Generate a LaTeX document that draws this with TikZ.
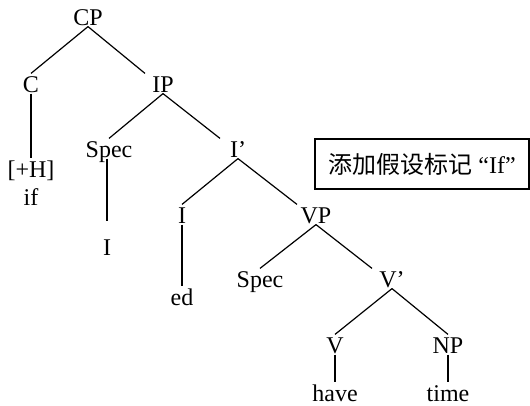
\documentclass[tikz,border=0pt]{standalone}
\usepackage{fontspec}
\setmainfont{Liberation Serif}
\newfontfamily\cjk{Noto Sans CJK SC}
\usetikzlibrary{calc}

\begin{document}
\begin{tikzpicture}[x=1pt, y=-1pt, line width=1.2pt,
        cat/.style={anchor=base, inner sep=1pt, text height=17pt, text depth=0pt,
            font=\fontsize{24}{28}\selectfont}]
            \useasboundingbox (0,0) rectangle (530,405);

            \node[cat] (CP) at (88,25) {CP};
            \node[cat] (C) at (31,92) {C};
            \node[cat] (IP) at (163,92) {IP};
            \node[cat] (H) at (31,177) {[+H]};
            \node[cat] (if) at (31,205) {if};
            \node[cat] (Spec1) at (109,157) {Spec};
            \node[cat] (Ibar) at (238,157) {I’};
            \node[cat] (I1) at (107,255) {I};
            \node[cat] (I2) at (182,223) {I};
            \node[cat] (ed) at (182,305) {ed};
            \node[cat] (VP) at (316,223) {VP};
            \node[cat] (Spec2) at (260,287) {Spec};
            \node[cat] (Vbar) at (392,287) {V’};
            \node[cat] (V) at (335,353) {V};
            \node[cat] (NP) at (448,353) {NP};
            \node[cat] (have) at (335,401) {have};
            \node[cat] (time) at (448,401) {time};

            \node[draw, line width=1.2pt, minimum width=214pt, minimum height=50pt, inner sep=0pt,
                font=\fontsize{24}{28}\selectfont] (note) at (422,164) {{\cjk 添加假设标记}~“If”};

            \draw (CP.south) -- (C.north);
            \draw (CP.south) -- ([xshift=-18pt]IP.north);
            \draw (C.south) -- (H.north);
            \draw (IP.south) -- (Spec1.north);
            \draw (IP.south) -- ([xshift=-18pt]Ibar.north);
            \draw (Spec1.south -| I1) -- ([yshift=15pt]I1.north);
            \draw (Ibar.south) -- (I2.north);
            \draw (Ibar.south) -- ([xshift=-19pt]VP.north);
            \draw (I2.south) -- (ed.north);
            \draw (VP.south) -- (Spec2.north);
            \draw (VP.south) -- ([xshift=-20pt]Vbar.north);
            \draw (Vbar.south) -- (V.north);
            \draw (Vbar.south) -- (NP.north);
            \draw (V.south) -- (have.north);
            \draw (NP.south) -- (time.north);
        \end{tikzpicture}
\end{document}
